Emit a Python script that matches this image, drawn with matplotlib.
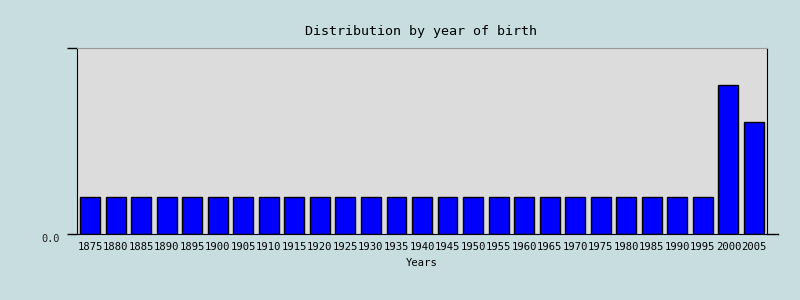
import matplotlib
matplotlib.use("Agg")
import matplotlib.pyplot as plt
import numpy as np

years = [str(y) for y in range(1875, 2010, 5)]
counts = [1] * 25 + [4, 3]
y_max = 5

plt.rcParams['font.family'] = ['DejaVu Sans Mono']

fig = plt.figure(figsize=(8, 3), dpi=100, facecolor='#c8dde0')
ax = fig.add_axes([77/800, 1-234/300, 690/800, 186/300])
ax.set_facecolor('#dcdcdc')
x = np.arange(len(years))
ax.bar(x, counts, width=0.78, color='#0000ff', edgecolor='black', linewidth=1)
ax.set_xlim(-0.51, len(years) - 0.49)
ax.set_ylim(0, y_max)
ax.set_xticks(x)
ax.set_xticklabels(years, fontsize=7.6)
ax.tick_params(axis='x', length=0, pad=6)
ax.set_yticks([0, y_max])
ax.set_yticklabels(['0.0', ''], fontsize=7.4, color='#222222')
ax.tick_params(axis='y', length=7.5, width=1, pad=5)
for lab in ax.get_yticklabels():
    lab.set_verticalalignment('top')
for s in ['left', 'right', 'bottom']:
    ax.spines[s].set_color('black')
ax.spines['top'].set_color('#999999')
ax.plot([1, 1.016], [0, 0], transform=ax.transAxes, color='black', lw=1, clip_on=False)
ax.set_xlabel('Years', fontsize=7.6, labelpad=4)
fig.text(0.5265, 1-32/300, 'Distribution by year of birth', ha='center', va='center', fontsize=9.6)
fig.savefig('out.png', dpi=100, facecolor=fig.get_facecolor())
